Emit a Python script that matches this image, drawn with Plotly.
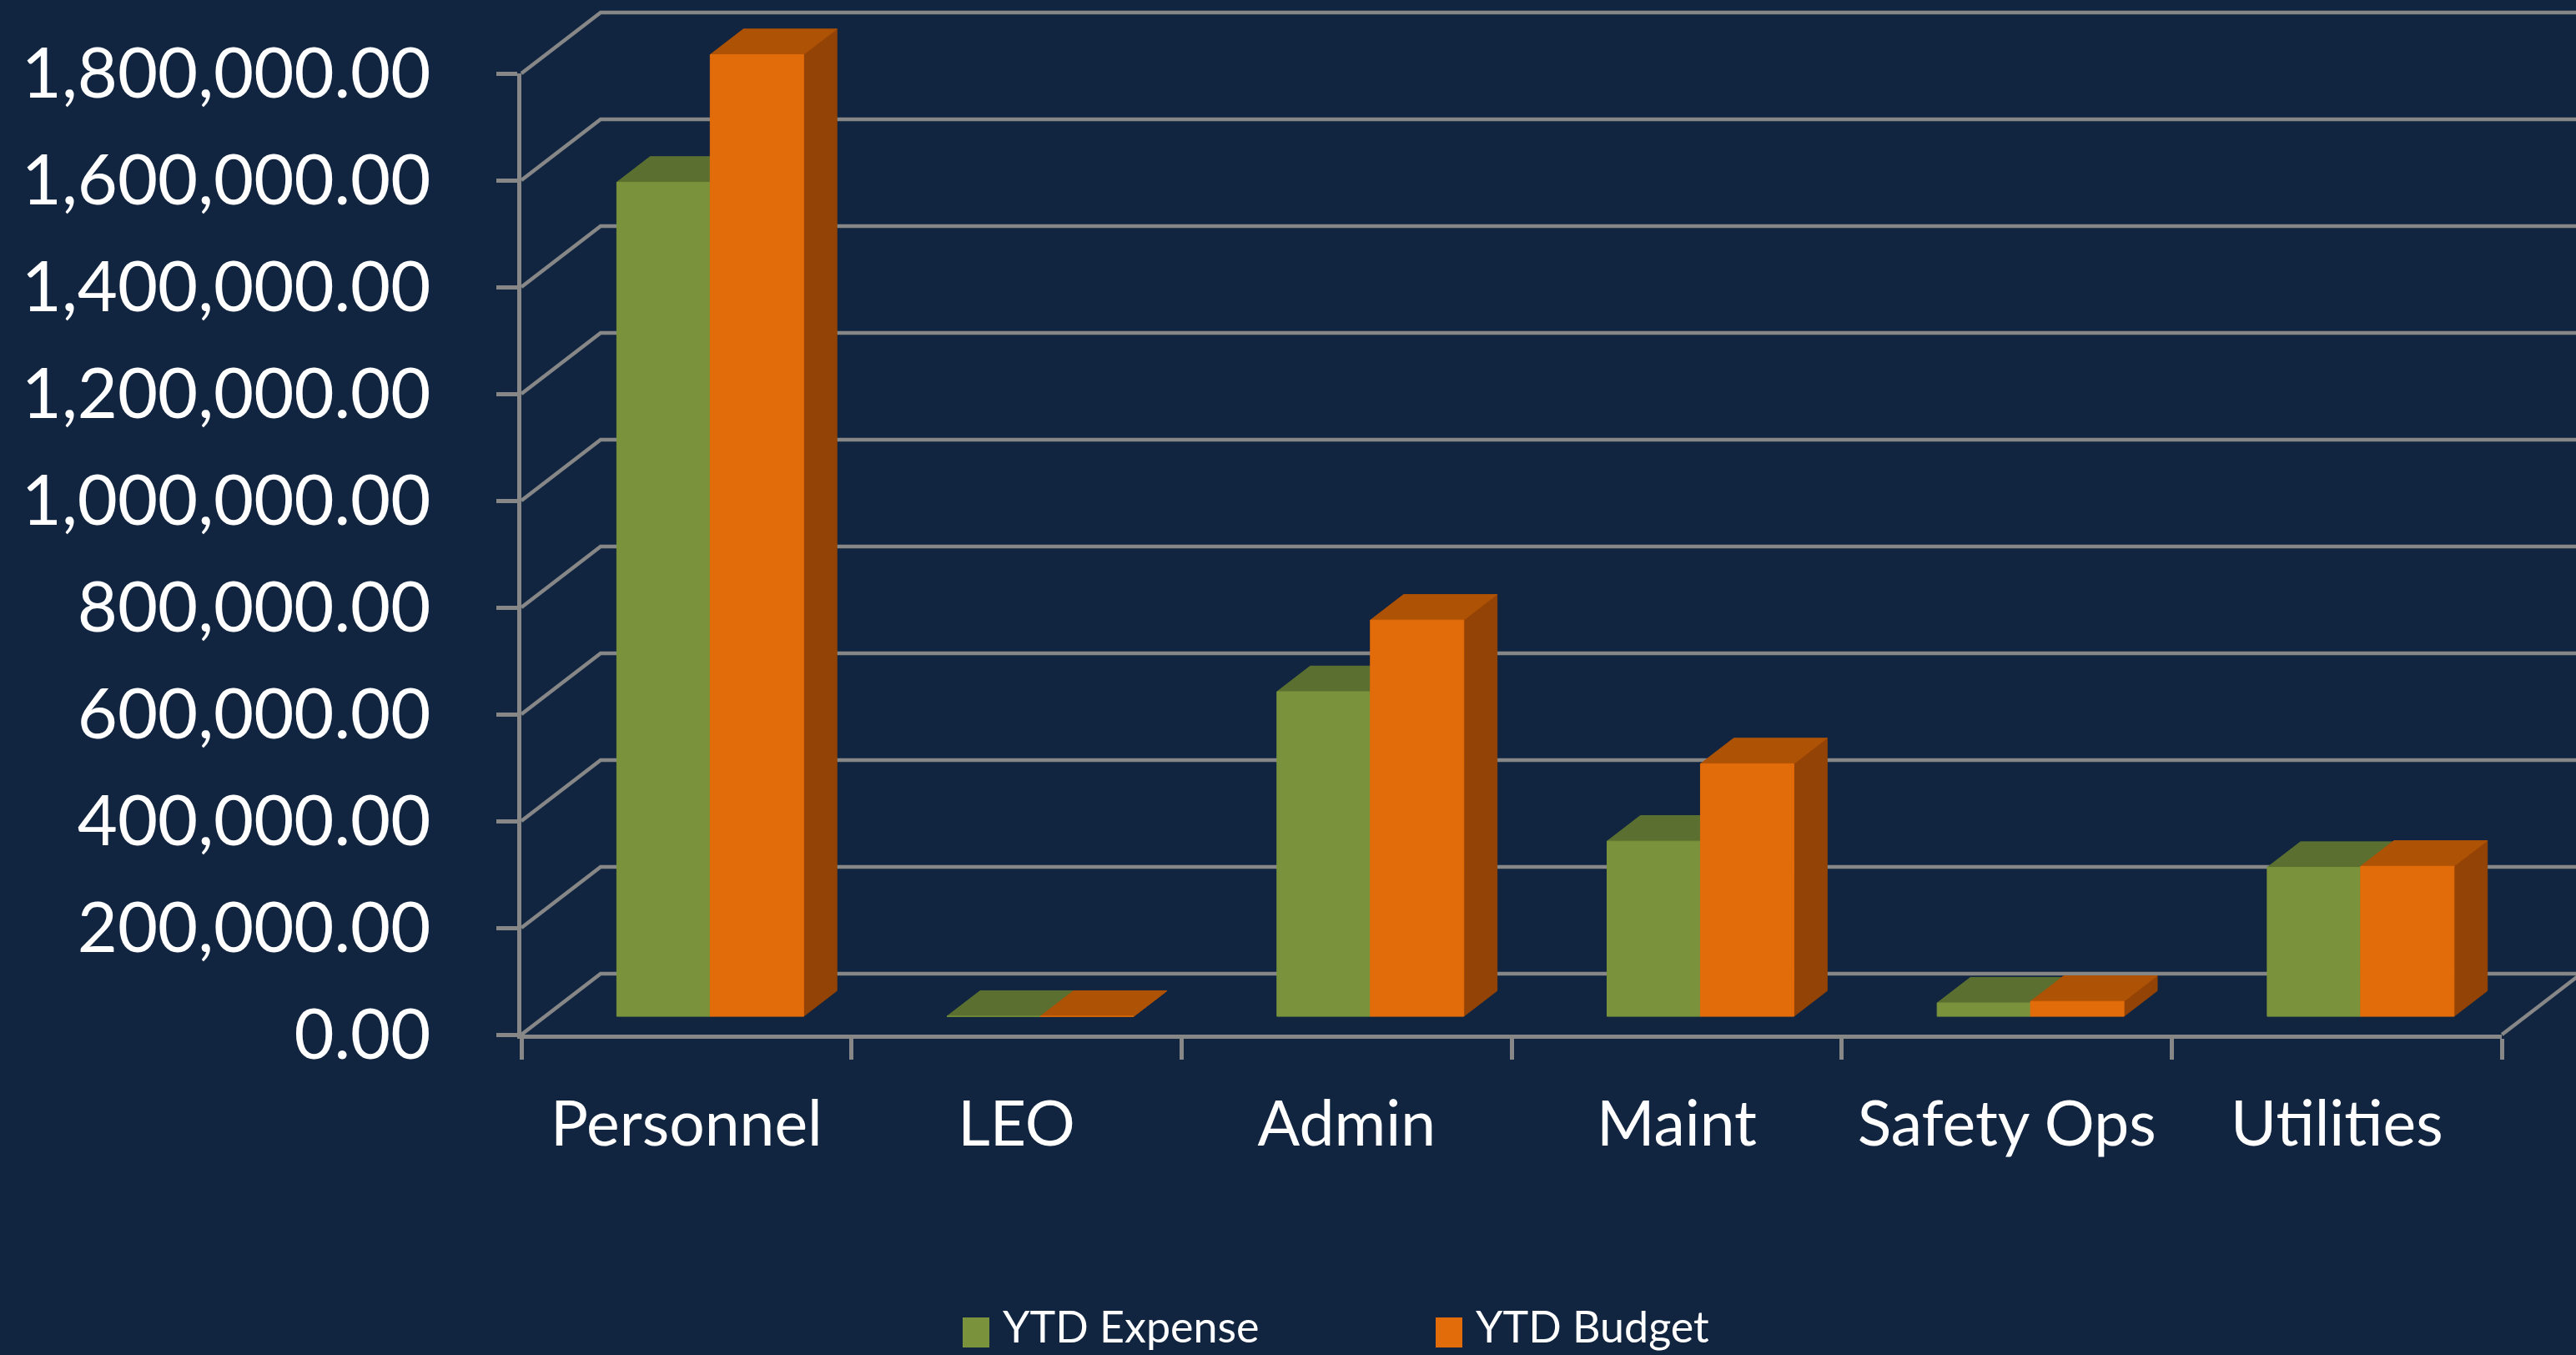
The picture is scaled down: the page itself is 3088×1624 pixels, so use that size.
import plotly.graph_objects as go

# ---------------- data ----------------
categories = ["Personnel", "LEO", "Admin", "Maint", "Safety Ops", "Utilities"]
ytd_expense = [1562000, 0, 608000, 328000, 25000, 279000]
ytd_budget = [1801000, 0, 742000, 473000, 28000, 281000]
series_names = ["YTD Expense", "YTD Budget"]
y_tick_values = [0, 200000, 400000, 600000, 800000, 1000000, 1200000, 1400000, 1600000, 1800000]
y_tick_labels = ["0.00", "200,000.00", "400,000.00", "600,000.00", "800,000.00",
                 "1,000,000.00", "1,200,000.00", "1,400,000.00", "1,600,000.00", "1,800,000.00"]

# ---------------- style / geometry ----------------
W, H = 3088, 1624
BG = "#112540"
GRID = "#878787"
FONT = "Lato"
FRONT_FACE = ["#7A923C", "#E36C0A"]
TOP_FACE = ["#5B7030", "#AE5206"]
SIDE_FACE = ["#4C5E28", "#924305"]

FRONT_X = 625      # pixel x of the front value axis
FRONT_Y = 1240     # pixel y of the front floor edge
CAT_PX = 395.7     # pixels per category
VAL_PX = 640e-6    # pixels per value unit
Y_MAX = 1800000
DEPTH_PX_X = 95    # depth projection (pixels)
DEPTH_PX_Y = 73
BAR_D0, BAR_D1 = 0.30, 0.72   # bar depth range (fraction of full depth)
BAR_W = 0.283                 # bar width in category units

dx_full = DEPTH_PX_X / CAT_PX
dy_full = DEPTH_PX_Y / VAL_PX
x_lo = -0.5 - FRONT_X / CAT_PX
x_hi = -0.5 + (W - FRONT_X) / CAT_PX
y_lo = -(H - FRONT_Y) / VAL_PX
y_hi = FRONT_Y / VAL_PX
n = len(categories)


def proj(x, v, d):
    return x + d * dx_full, v + d * dy_full


fig = go.Figure()

# back wall gridlines + floor edge
gx, gy = [], []
for v in y_tick_values:
    p0 = proj(-0.5, v, 0)
    p1 = proj(-0.5, v, 1)
    gx += [p0[0], p1[0], x_hi + 1, None]
    gy += [p0[1], p1[1], p1[1], None]
r0 = proj(n - 0.5, 0, 0)
r1 = proj(n - 0.5, 0, 1)
gx += [r0[0], r1[0], None]
gy += [r0[1], r1[1], None]
fig.add_trace(go.Scatter(x=gx, y=gy, mode="lines", line=dict(color=GRID, width=4.5),
                         hoverinfo="skip", showlegend=False))

# 3D bars: faces built from data values
series_vals = [ytd_expense, ytd_budget]
for s, vals in enumerate(series_vals):
    faces = {"side": ([], []), "top": ([], []), "front": ([], [])}
    for i, v in enumerate(vals):
        xl = i - BAR_W + s * BAR_W
        xr = xl + BAR_W
        polys = {
            "front": [(xl, 0, BAR_D0), (xr, 0, BAR_D0), (xr, v, BAR_D0), (xl, v, BAR_D0)],
            "top": [(xl, v, BAR_D0), (xr, v, BAR_D0), (xr, v, BAR_D1), (xl, v, BAR_D1)],
            "side": [(xr, 0, BAR_D0), (xr, v, BAR_D0), (xr, v, BAR_D1), (xr, 0, BAR_D1)],
        }
        for k, pts in polys.items():
            fx, fy = faces[k]
            for (px, pv, pd) in pts + [pts[0]]:
                a, b = proj(px, pv, pd)
                fx.append(a)
                fy.append(b)
            fx.append(None)
            fy.append(None)
    for k, col in (("side", SIDE_FACE[s]), ("top", TOP_FACE[s]), ("front", FRONT_FACE[s])):
        fx, fy = faces[k]
        fig.add_trace(go.Scatter(x=fx, y=fy, mode="lines", fill="toself", fillcolor=col,
                                 line=dict(color=col, width=1), hoverinfo="skip",
                                 showlegend=False, name=series_names[s]))

# invisible trace carrying the front axes
fig.add_trace(go.Scatter(x=categories, y=[0] * n, xaxis="x2", yaxis="y2", mode="markers",
                         marker=dict(opacity=0), hoverinfo="skip", showlegend=False))

axis_common = dict(showline=True, linecolor=GRID, linewidth=5, ticks="outside",
                   ticklen=25, tickwidth=5, tickcolor=GRID, showgrid=False, zeroline=False,
                   automargin=False)

fig.update_layout(
    width=W, height=H,
    margin=dict(l=0, r=0, t=0, b=0, pad=0, autoexpand=False),
    paper_bgcolor=BG, plot_bgcolor="rgba(0,0,0,0)",
    showlegend=False,
    xaxis=dict(domain=[0, 1], range=[x_lo, x_hi], visible=False, fixedrange=True,
               automargin=False),
    yaxis=dict(domain=[0, 1], range=[y_lo, y_hi], visible=False, fixedrange=True,
               automargin=False),
    xaxis2=dict(domain=[FRONT_X / W, (FRONT_X + n * CAT_PX) / W], anchor="y2",
                type="category", categoryorder="array", categoryarray=categories,
                range=[-0.5, n - 0.5], tickson="boundaries", ticklabelstandoff=38,
                tickfont=dict(family=FONT, size=75, color="white"), fixedrange=True,
                **axis_common),
    yaxis2=dict(domain=[(H - FRONT_Y) / H, (H - FRONT_Y + Y_MAX * VAL_PX) / H], anchor="x2",
                range=[0, Y_MAX], tickvals=y_tick_values, ticktext=y_tick_labels,
                ticklabelstandoff=62, tickfont=dict(family=FONT, size=83, color="white"),
                fixedrange=True, **axis_common),
)

# manual legend (large square swatches)
legend_items = [(series_names[0], FRONT_FACE[0], 1154), (series_names[1], FRONT_FACE[1], 1721)]
for name, col, x0 in legend_items:
    fig.add_shape(type="rect", xref="paper", yref="paper",
                  x0=x0 / W, x1=(x0 + 32) / W, y0=1 - 1615 / H, y1=1 - 1579 / H,
                  fillcolor=col, line=dict(width=0))
    fig.add_annotation(text=name, xref="paper", yref="paper", x=(x0 + 46) / W,
                       y=1 - 1589 / H, xanchor="left", yanchor="middle", showarrow=False,
                       font=dict(family=FONT, size=52, color="white"))

fig.write_html("out.html", post_script="document.body.style.margin='0px';",
               config={"displayModeBar": False, "staticPlot": True})
